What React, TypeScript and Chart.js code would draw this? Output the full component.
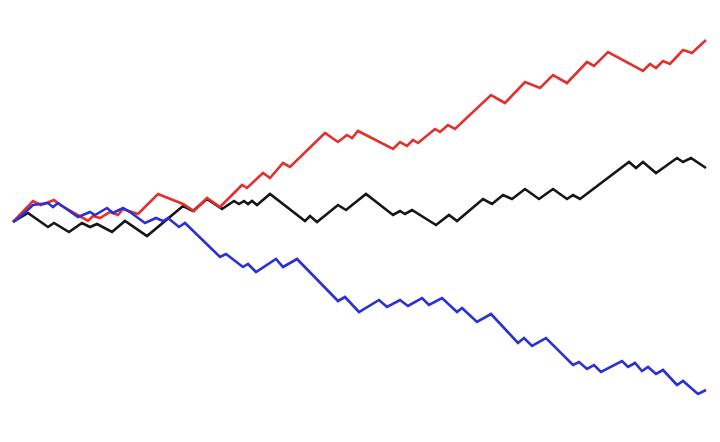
import { useEffect, useRef } from 'react';
import { Chart, registerables } from 'chart.js';

Chart.register(...registerables);

// Three random walks (time step, level)
const redT = [0, 20, 28, 41, 47, 75, 80, 87, 97, 105, 110, 125, 145, 170, 181, 194, 207, 229, 234, 250, 257, 270, 277, 312, 325, 334, 339, 345, 380, 387, 394, 400, 405, 422, 427, 435, 442, 478, 492, 512, 527, 540, 554, 574, 581, 595, 630, 637, 643, 650, 657, 670, 679, 693];
const redV = [0, 21, 17, 22, 17, 1, 6, 4, 10, 7, 13, 8, 28, 18, 11, 24, 15, 37, 34, 49, 44, 59, 55, 89, 80, 87, 84, 91, 73, 80, 76, 82, 79, 93, 90, 97, 93, 127, 119, 140, 134, 147, 139, 160, 156, 170, 151, 158, 154, 161, 158, 172, 169, 182];

const blackT = [0, 15, 35, 41, 56, 69, 77, 84, 99, 112, 134, 170, 180, 194, 209, 221, 226, 231, 235, 239, 244, 257, 292, 297, 304, 325, 333, 353, 380, 387, 392, 399, 423, 436, 444, 470, 479, 490, 499, 512, 526, 540, 554, 560, 567, 616, 623, 630, 643, 664, 670, 678, 693];
const blackV = [0, 9, -5, -1, -10, -1, -5, -2, -10, 1, -14, 16, 11, 23, 13, 21, 18, 21, 18, 21, 17, 28, 1, 6, 0, 17, 12, 28, 7, 11, 8, 12, -3, 7, 1, 23, 18, 27, 23, 33, 23, 33, 23, 27, 23, 60, 54, 60, 49, 64, 60, 64, 54];

const blueT = [0, 7, 20, 35, 40, 45, 65, 77, 82, 94, 100, 110, 117, 132, 143, 150, 155, 166, 172, 207, 213, 230, 235, 243, 263, 270, 284, 325, 332, 346, 366, 374, 387, 395, 409, 416, 429, 444, 449, 464, 478, 505, 511, 519, 533, 560, 566, 574, 581, 588, 609, 615, 622, 629, 635, 643, 650, 664, 670, 685, 693];
const blueV = [0, 5, 17, 19, 15, 19, 5, 10, 7, 14, 9, 14, 10, -1, 4, 1, 4, -5, -1, -35, -32, -45, -42, -50, -37, -45, -37, -79, -75, -90, -78, -85, -78, -84, -76, -83, -76, -90, -86, -100, -92, -121, -116, -124, -116, -143, -140, -147, -143, -150, -139, -145, -141, -149, -145, -152, -148, -163, -159, -172, -168];

const toPoints = (t: number[], v: number[]) => t.map((x, i) => ({ x, y: v[i] }));

const WalkChart = () => {
  const chartRef = useRef<HTMLCanvasElement>(null);
  const chartInstance = useRef<Chart | null>(null);

  useEffect(() => {
    if (!chartRef.current) return;
    if (chartInstance.current) chartInstance.current.destroy();

    const ctx = chartRef.current.getContext('2d');
    if (!ctx) return;

    chartInstance.current = new Chart(ctx, {
      type: 'line',
      data: {
        datasets: [
          { label: 'blue', data: toPoints(blueT, blueV), borderColor: '#2b2fd6' },
          { label: 'red', data: toPoints(redT, redV), borderColor: '#e3302c' },
          { label: 'black', data: toPoints(blackT, blackV), borderColor: '#161616' },
        ],
      },
      options: {
        responsive: false,
        animation: false,
        layout: { padding: 0 },
        elements: {
          line: { borderWidth: 2.6, tension: 0, borderJoinStyle: 'miter' },
          point: { radius: 0 },
        },
        scales: {
          x: { type: 'linear', display: false, min: -13, max: 707 },
          y: { type: 'linear', display: false, min: -220, max: 222 },
        },
        plugins: {
          legend: { display: false },
          tooltip: { enabled: false },
        },
      },
    });

    return () => {
      if (chartInstance.current) {
        chartInstance.current.destroy();
        chartInstance.current = null;
      }
    };
  }, []);

  return <canvas ref={chartRef} width={720} height={442} />;
};

export default function App() {
  return (
    <div style={{ position: 'absolute', left: 0, top: 0, width: 720, height: 442, background: '#fff' }}>
      <WalkChart />
    </div>
  );
}
